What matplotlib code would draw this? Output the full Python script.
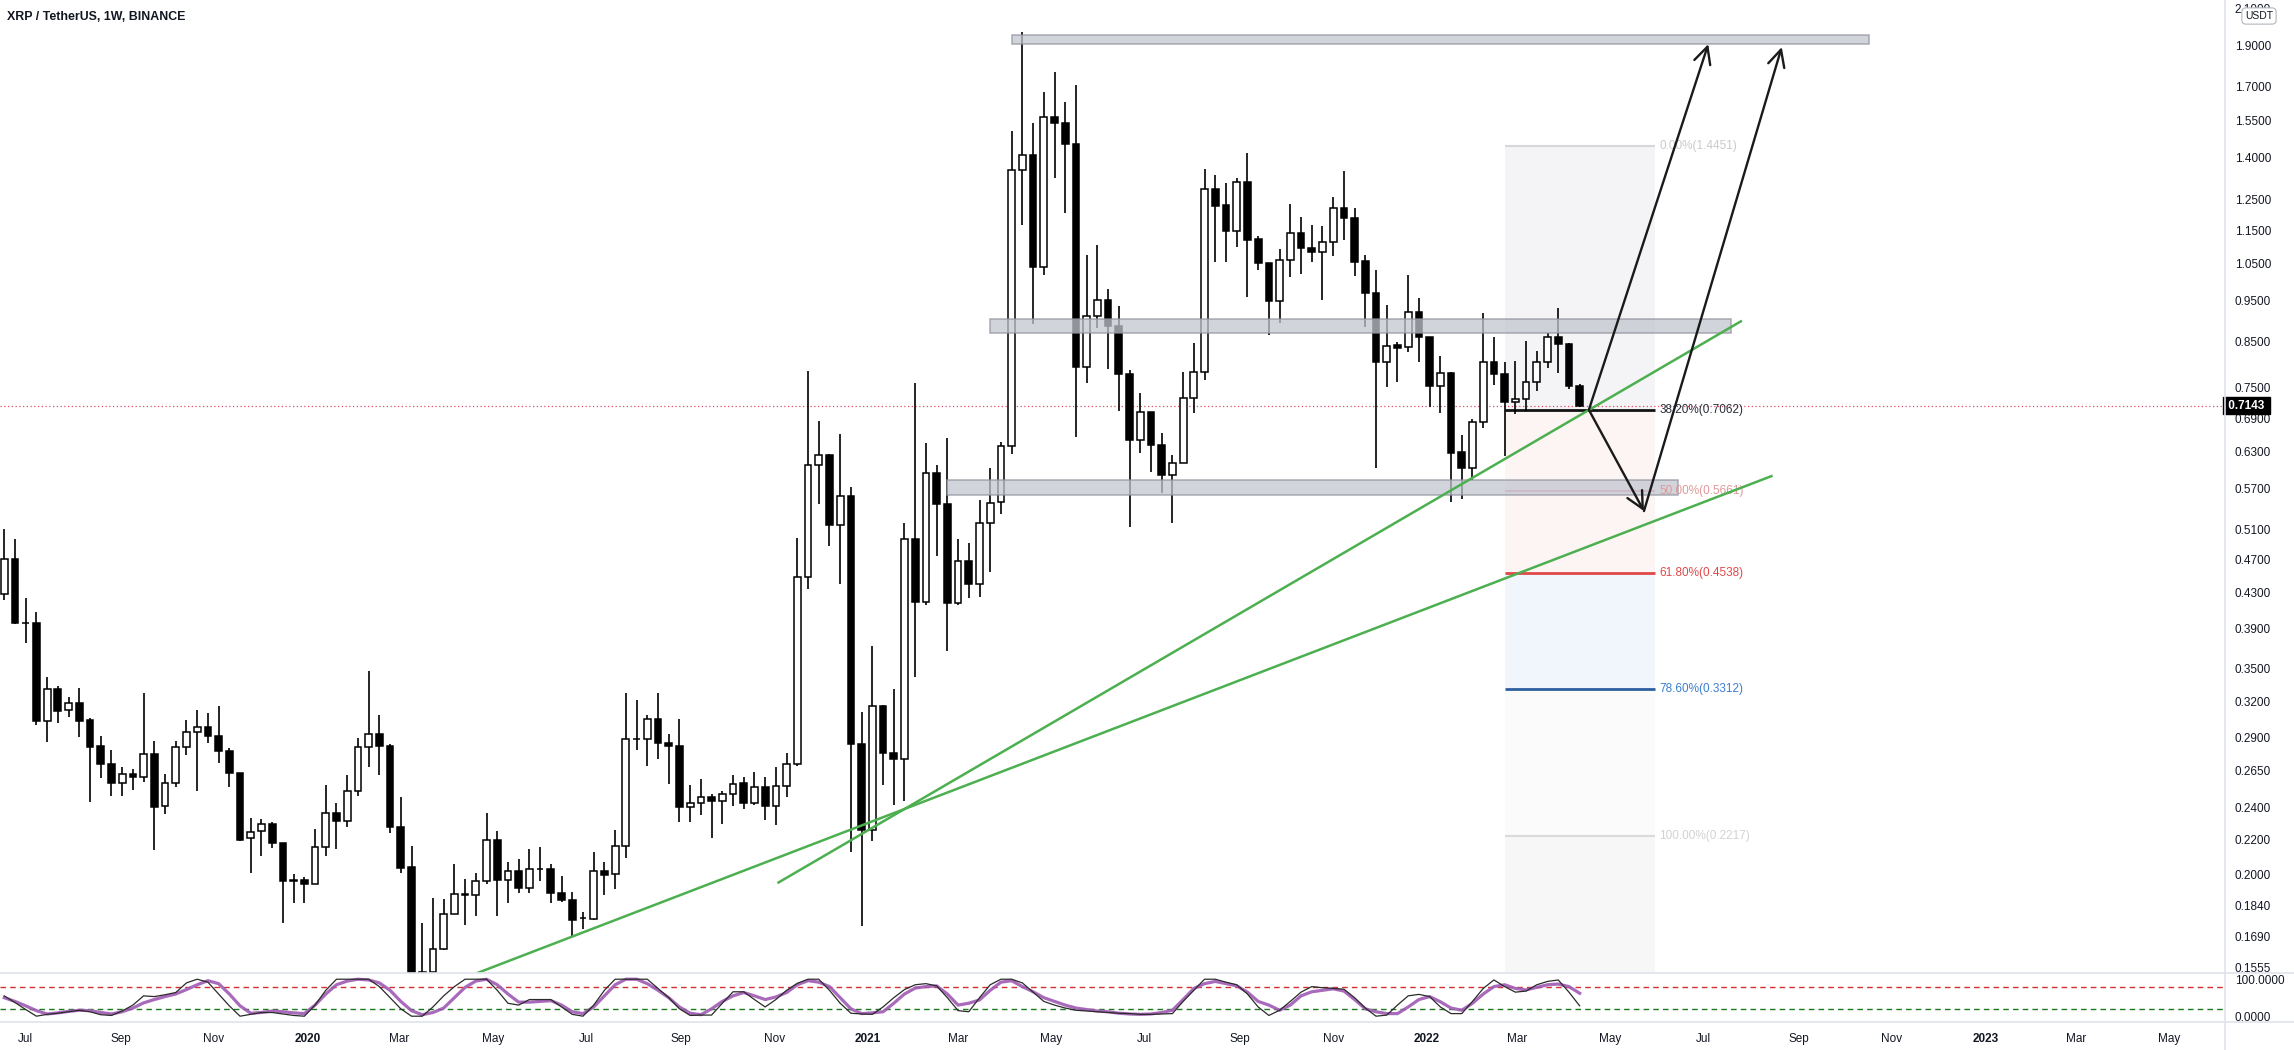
import numpy as np
import pandas as pd
import matplotlib
matplotlib.use("Agg")
import matplotlib.pyplot as plt
import matplotlib.dates as mdates
from matplotlib.patches import Rectangle
from matplotlib.lines import Line2D
import matplotlib.transforms as mtrans

plt.rcParams['font.family'] = ['Liberation Sans', 'DejaVu Sans']

# ---------------- data ----------------
title = "XRP / TetherUS, 1W, BINANCE"
first_week = "2019-06-17"

opens = [0.4278, 0.4705, 0.3961, 0.3955, 0.3035, 0.3305, 0.3122, 0.3182, 0.3041, 0.2833,
         0.2696, 0.2560, 0.2624, 0.2602, 0.2770, 0.2405, 0.2560, 0.2828, 0.2941, 0.2988,
         0.2909, 0.2795, 0.2631, 0.2205, 0.2249, 0.2290, 0.2175, 0.1966, 0.1969, 0.1946,
         0.2156, 0.2360, 0.2313, 0.2510, 0.2828, 0.2925, 0.2833, 0.2272, 0.2038, 0.1520,
         0.1535, 0.1631, 0.1794, 0.1894, 0.1892, 0.1965, 0.2195, 0.1970, 0.2018, 0.1929,
         0.2032, 0.2032, 0.1903, 0.1863, 0.1778, 0.1772, 0.2016, 0.2001, 0.2159, 0.2890,
         0.2890, 0.3046, 0.2857, 0.2836, 0.2403, 0.2428, 0.2467, 0.2441, 0.2488, 0.2561,
         0.2428, 0.2533, 0.2410, 0.2540, 0.2700, 0.4479, 0.6073, 0.6241, 0.5161, 0.5584,
         0.2852, 0.2256, 0.3160, 0.2777, 0.2734, 0.4969, 0.4192, 0.5947, 0.5468, 0.4175,
         0.4681, 0.4404, 0.5188, 0.5498, 0.6397, 1.3546, 1.4107, 1.0403, 1.5646, 1.5394,
         1.4545, 0.7940, 0.9114, 0.9508, 0.8870, 0.7783, 0.6513, 0.7012, 0.6414, 0.5915,
         0.6104, 0.7289, 0.7834, 1.2880, 1.2312, 1.1468, 1.3126, 1.1231, 1.0517, 0.9483,
         1.0611, 1.1405, 1.0948, 1.0829, 1.1127, 1.2203, 1.1876, 1.0577, 0.9688, 0.8047,
         0.8420, 0.8366, 0.9201, 0.8613, 0.7539, 0.7810, 0.6291, 0.6023, 0.6825, 0.8047,
         0.7775, 0.7219, 0.7264, 0.7607, 0.8047, 0.8597, 0.8435, 0.7539]
highs = [0.5109, 0.4967, 0.4232, 0.4074, 0.3420, 0.3335, 0.3234, 0.3314, 0.3055, 0.2912,
         0.2803, 0.2677, 0.2662, 0.3275, 0.2875, 0.2624, 0.2875, 0.3041, 0.3125, 0.3102,
         0.3159, 0.2816, 0.2631, 0.2328, 0.2322, 0.2307, 0.2175, 0.2002, 0.1987, 0.2262,
         0.2546, 0.2425, 0.2617, 0.2893, 0.3474, 0.3083, 0.2847, 0.2465, 0.2160, 0.1751,
         0.1877, 0.1873, 0.2057, 0.1975, 0.2005, 0.2360, 0.2252, 0.2066, 0.2085, 0.2140,
         0.2152, 0.2057, 0.1991, 0.1909, 0.1806, 0.2125, 0.2070, 0.2258, 0.3275, 0.3207,
         0.3085, 0.3275, 0.2927, 0.3052, 0.2546, 0.2594, 0.2488, 0.2509, 0.2616, 0.2608,
         0.2643, 0.2602, 0.2677, 0.2783, 0.4985, 0.7855, 0.6854, 0.6270, 0.6619, 0.5732,
         0.3111, 0.3715, 0.3167, 0.3310, 0.5199, 0.7596, 0.6454, 0.6086, 0.6536, 0.4975,
         0.4913, 0.5526, 0.6029, 0.6473, 1.5038, 1.9687, 1.5394, 1.6725, 1.7670, 1.6294,
         1.7075, 1.0755, 1.1050, 0.9812, 0.9355, 0.7869, 0.7388, 0.7012, 0.6632, 0.6243,
         0.7820, 0.8457, 1.3570, 1.3352, 1.3090, 1.3269, 1.4197, 1.1333, 1.0517, 1.0932,
         1.2345, 1.1909, 1.1664, 1.1632, 1.2600, 1.3500, 1.2203, 1.0751, 1.0322, 0.9386,
         0.8481, 1.0182, 0.9557, 0.8613, 0.8179, 0.7831, 0.6594, 0.6881, 0.9176, 0.8613,
         0.8033, 0.8061, 0.8512, 0.8284, 0.8691, 0.9319, 0.8458, 0.7573]
lows = [0.4213, 0.3950, 0.3745, 0.3000, 0.2867, 0.3014, 0.3069, 0.2906, 0.2436, 0.2595,
        0.2476, 0.2476, 0.2514, 0.2572, 0.2137, 0.2356, 0.2537, 0.2766, 0.2510, 0.2854,
        0.2704, 0.2537, 0.2190, 0.2009, 0.2104, 0.2150, 0.1751, 0.1851, 0.1851, 0.1946,
        0.2104, 0.2142, 0.2272, 0.2476, 0.2679, 0.2619, 0.2235, 0.2005, 0.1150, 0.1330,
        0.1480, 0.1630, 0.1794, 0.1743, 0.1786, 0.1946, 0.1786, 0.1848, 0.1899, 0.1903,
        0.1966, 0.1851, 0.1857, 0.1690, 0.1726, 0.1768, 0.1889, 0.1923, 0.2091, 0.2800,
        0.2683, 0.2739, 0.2554, 0.2304, 0.2306, 0.2348, 0.2205, 0.2292, 0.2410, 0.2390,
        0.2415, 0.2318, 0.2287, 0.2467, 0.2683, 0.4340, 0.5468, 0.4882, 0.4395, 0.2125,
        0.1740, 0.2188, 0.2546, 0.2415, 0.2441, 0.3416, 0.4161, 0.4745, 0.3668, 0.4161,
        0.4241, 0.4250, 0.4550, 0.5318, 0.6255, 1.1675, 0.8903, 1.0191, 1.3245, 1.2050,
        0.6554, 0.7590, 0.8823, 0.7890, 0.7030, 0.5139, 0.6282, 0.5968, 0.5638, 0.5200,
        0.6104, 0.7000, 0.7659, 1.0563, 1.0563, 1.0981, 0.9593, 1.0311, 0.8649, 0.8927,
        1.0126, 1.0218, 1.0558, 0.9515, 1.0732, 1.1199, 1.0155, 0.8849, 0.6023, 0.7505,
        0.7621, 0.8269, 0.8047, 0.7108, 0.6994, 0.5501, 0.5536, 0.5835, 0.6715, 0.7553,
        0.6228, 0.6981, 0.7044, 0.7437, 0.7902, 0.7810, 0.7471, 0.7122]
closes = [0.4705, 0.3961, 0.3955, 0.3035, 0.3311, 0.3119, 0.3182, 0.3035, 0.2828, 0.2696,
          0.2560, 0.2624, 0.2602, 0.2770, 0.2403, 0.2560, 0.2828, 0.2941, 0.2981, 0.2909,
          0.2795, 0.2631, 0.2195, 0.2245, 0.2290, 0.2175, 0.1966, 0.1968, 0.1946, 0.2156,
          0.2360, 0.2313, 0.2510, 0.2828, 0.2925, 0.2833, 0.2272, 0.2037, 0.1520, 0.1535,
          0.1631, 0.1794, 0.1894, 0.1892, 0.1965, 0.2195, 0.1970, 0.2018, 0.1925, 0.2027,
          0.2027, 0.1903, 0.1863, 0.1768, 0.1775, 0.2016, 0.1999, 0.2159, 0.2890, 0.2888,
          0.3046, 0.2857, 0.2836, 0.2403, 0.2428, 0.2467, 0.2441, 0.2488, 0.2554, 0.2428,
          0.2535, 0.2410, 0.2540, 0.2700, 0.4479, 0.6073, 0.6241, 0.5161, 0.5584, 0.2852,
          0.2256, 0.3160, 0.2777, 0.2734, 0.4969, 0.4192, 0.5947, 0.5468, 0.4175, 0.4681,
          0.4404, 0.5188, 0.5479, 0.6397, 1.3546, 1.4107, 1.0403, 1.5646, 1.5382, 1.4519,
          0.7940, 0.9114, 0.9508, 0.8870, 0.7783, 0.6513, 0.7012, 0.6414, 0.5915, 0.6104,
          0.7289, 0.7834, 1.2880, 1.2290, 1.1468, 1.3126, 1.1211, 1.0517, 0.9483, 1.0611,
          1.1405, 1.0971, 1.0829, 1.1127, 1.2203, 1.1876, 1.0558, 0.9688, 0.8047, 0.8397,
          0.8359, 0.9201, 0.8597, 0.7539, 0.7796, 0.6285, 0.6023, 0.6825, 0.8047, 0.7775,
          0.7219, 0.7264, 0.7607, 0.8047, 0.8597, 0.8435, 0.7539, 0.7143]

stoch_k = [55, 37, 18, 0, 5, 8, 12, 16, 12, 4, 2, 14, 30, 55, 53, 58, 64, 90, 100, 92,
           60, 28, 0, 5, 10, 10, 6, 2, 0, 30, 70, 100, 100, 100, 100, 80, 50, 20, 0, 0,
           25, 55, 80, 100, 100, 100, 70, 35, 30, 45, 45, 45, 25, 5, 0, 30, 70, 100, 100, 100,
           100, 75, 50, 20, 2, 3, 3, 35, 66, 66, 45, 25, 45, 70, 89, 100, 100, 70, 35, 8,
           6, 5, 25, 50, 72, 85, 88, 82, 50, 15, 12, 50, 85, 100, 100, 90, 65, 40, 30, 22,
           16, 14, 12, 10, 8, 7, 5, 5, 6, 7, 40, 70, 100, 100, 92, 85, 60, 25, 2, 16,
           40, 65, 80, 77, 75, 73, 50, 22, 0, 3, 30, 55, 59, 53, 25, 7, 7, 40, 75, 98,
           80, 65, 68, 85, 94, 98, 65, 28]
stoch_d = [50, 40, 28, 15, 6, 9, 13, 16, 15, 10, 6, 12, 22, 36, 45, 53, 60, 72, 85, 96,
           88, 60, 28, 8, 10, 14, 12, 9, 7, 30, 60, 85, 95, 100, 98, 90, 70, 40, 15, 4,
           10, 22, 50, 78, 95, 100, 85, 60, 38, 38, 40, 42, 30, 12, 7, 25, 55, 85, 100, 100,
           88, 70, 50, 25, 8, 4, 20, 40, 55, 64, 55, 45, 52, 64, 85, 96, 92, 80, 50, 20,
           7, 9, 12, 35, 60, 76, 80, 82, 60, 30, 35, 44, 70, 92, 96, 80, 66, 50, 40, 30,
           22, 18, 14, 12, 8, 6, 5, 6, 10, 16, 45, 75, 88, 94, 88, 82, 65, 40, 30, 16,
           30, 55, 66, 70, 74, 68, 45, 20, 12, 7, 7, 25, 45, 53, 39, 22, 16, 35, 60, 80,
           85, 75, 71, 78, 85, 87, 80, 62]

price_ticks = [2.1, 1.9, 1.7, 1.55, 1.4, 1.25, 1.15, 1.05, 0.95, 0.85, 0.75, 0.69, 0.63,
               0.57, 0.51, 0.47, 0.43, 0.39, 0.35, 0.32, 0.29, 0.265, 0.24, 0.22, 0.20,
               0.184, 0.169, 0.1555]
last_price = 0.7143

month_ticks = ["2019-07-01", "2019-09-01", "2019-11-01", "2020-01-01", "2020-03-01",
               "2020-05-01", "2020-07-01", "2020-09-01", "2020-11-01", "2021-01-01",
               "2021-03-01", "2021-05-01", "2021-07-01", "2021-09-01", "2021-11-01",
               "2022-01-01", "2022-03-01", "2022-05-01", "2022-07-01", "2022-09-01",
               "2022-11-01", "2023-01-01", "2023-03-01", "2023-05-01"]
month_labels = ["Jul", "Sep", "Nov", "2020", "Mar", "May", "Jul", "Sep", "Nov", "2021",
                "Mar", "May", "Jul", "Sep", "Nov", "2022", "Mar", "May", "Jul", "Sep",
                "Nov", "2023", "Mar", "May"]

# horizontal zones: (start, end, low, high)
zone_starts = ["2021-04-05", "2021-03-22", "2021-02-22"]
zone_ends = ["2022-10-17", "2022-07-19", "2022-06-14"]
zone_lows = [1.905, 0.869, 0.561]
zone_highs = [1.955, 0.904, 0.583]

# fibonacci retracement
fib_start, fib_end, fib_label_at = "2022-02-21", "2022-05-30", "2022-06-02"
fib_pcts = ["0.00%", "38.20%", "50.00%", "61.80%", "78.60%", "100.00%"]
fib_values = [1.4451, 0.7062, 0.5661, 0.4538, 0.3312, 0.2217]

# trend lines: (date, price) pairs
trend_a = [("2020-04-21", 0.1530), ("2022-08-15", 0.5905)]
trend_b = [("2020-11-03", 0.1953), ("2022-07-26", 0.8995)]

# arrows: (start, end)
arrows = [(("2022-04-17", 0.7062), ("2022-07-04", 1.906)),
          (("2022-04-17", 0.7062), ("2022-05-23", 0.5364)),
          (("2022-05-23", 0.5364), ("2022-08-21", 1.891))]

# ---------------- layout ----------------
W, H = 2294, 1050
fig = plt.figure(figsize=(W / 100, H / 100), dpi=100)
fig.patch.set_facecolor("white")
axis_x = 2225
main_bot = 973
osc_top, osc_bot = 973, 1022

ax = fig.add_axes([0, 1 - main_bot / H, axis_x / W, main_bot / H])
osc = fig.add_axes([0, 1 - osc_bot / H, axis_x / W, (osc_bot - osc_top) / H])

ref = mdates.date2num(pd.Timestamp("2019-07-01"))
ppd = 1.531  # pixels per day
x_left = ref - 25.7 / ppd
x_right = ref + (axis_x - 25.7) / ppd

TXT = "#131722"
FS = 8.5

# ---------------- main pane ----------------
ax.set_yscale("log")
ax.set_xlim(x_left, x_right)
ax.set_ylim(0.1530, 2.149)
for s in ax.spines.values():
    s.set_visible(False)

dates = pd.date_range(first_week, periods=len(opens), freq="7D")
xd = mdates.date2num(dates)
o = np.array(opens); c = np.array(closes); hi = np.array(highs); lo = np.array(lows)
up = c >= o

# fib shading
fx0 = mdates.date2num(pd.Timestamp(fib_start)); fx1 = mdates.date2num(pd.Timestamp(fib_end))
shade_cols = ["#f4f4f6", "#fdf5f4", "#fdf5f4", "#f1f6fc", "#fbfbfb"]
for k in range(len(fib_values) - 1):
    ax.add_patch(Rectangle((fx0, fib_values[k + 1]), fx1 - fx0, fib_values[k] - fib_values[k + 1],
                           facecolor=shade_cols[k], edgecolor="none", zorder=0))
ax.add_patch(Rectangle((fx0, 0.1530), fx1 - fx0, fib_values[-1] - 0.1530,
                       facecolor="#f7f7f7", edgecolor="none", zorder=0))
fib_line_cols = ["#d6d6d8", "#131313", "#e9a3a3", "#e04848", "#2d5f9f", "#dadada"]
fib_text_cols = ["#c9cacd", "#2a2e39", "#e09898", "#e04848", "#3a7fd0", "#d2d2d4"]
fib_lw = [1.5, 2.0, 1.5, 2.0, 2.0, 1.5]
fxl = mdates.date2num(pd.Timestamp(fib_label_at))
for v, p, lc, tc, lw in zip(fib_values, fib_pcts, fib_line_cols, fib_text_cols, fib_lw):
    ax.hlines(v, fx0, fx1, colors=lc, lw=lw, zorder=2)
    ax.text(fxl, v, f"{p}({v:.4f})", color=tc, fontsize=FS, va="center", ha="left", zorder=6)

# candles
body_w = 4.4
ax.vlines(xd, lo, hi, color="black", lw=1.2, zorder=3)
ax.bar(xd[up], c[up] - o[up], bottom=o[up], width=body_w, color="white",
       edgecolor="black", linewidth=1.1, zorder=4)
ax.bar(xd[~up], o[~up] - c[~up], bottom=c[~up], width=body_w, color="black",
       edgecolor="black", linewidth=1.1, zorder=4)

# zones
for s0, s1, zl, zh in zip(zone_starts, zone_ends, zone_lows, zone_highs):
    a0 = mdates.date2num(pd.Timestamp(s0)); a1 = mdates.date2num(pd.Timestamp(s1))
    ax.add_patch(Rectangle((a0, zl), a1 - a0, zh - zl, facecolor="#c3c6d0", alpha=0.75,
                           edgecolor="#8f929b", linewidth=1.1, zorder=5))

# trend lines
for tl in (trend_a, trend_b):
    tx = [mdates.date2num(pd.Timestamp(d)) for d, _ in tl]
    ty = [p for _, p in tl]
    ax.plot(tx, ty, color="#4caf50", lw=1.8, zorder=6, solid_capstyle="butt")

# arrows
for (d0, p0), (d1, p1) in arrows:
    ax.annotate("", xy=(mdates.date2num(pd.Timestamp(d1)), p1),
                xytext=(mdates.date2num(pd.Timestamp(d0)), p0),
                arrowprops=dict(arrowstyle="->,head_length=0.6,head_width=0.3", color="#1a1a1a",
                                lw=1.7, mutation_scale=20, shrinkA=0, shrinkB=0), zorder=7)

# current price line
ax.axhline(last_price, color="#e0506a", lw=0.9, ls=(0, (1, 2)), zorder=1)

# right price scale
ax.yaxis.tick_right()
ax.yaxis.set_minor_locator(matplotlib.ticker.NullLocator())
ax.set_yticks(price_ticks)
ax.set_yticklabels([f"{t:.4f}" for t in price_ticks])
ax.tick_params(axis="y", length=0, pad=7, labelsize=FS, labelcolor=TXT)
ax.tick_params(axis="x", length=0, labelbottom=False)

blend = mtrans.blended_transform_factory(ax.transAxes, ax.transData)
ax.text(1.0, last_price, " 0.7143 ", transform=blend, ha="left", va="center", color="white",
        fontsize=FS, fontweight="bold", zorder=10,
        bbox=dict(boxstyle="square,pad=0.2", fc="black", ec="black"), clip_on=False)

# ---------------- oscillator pane ----------------
osc.set_xlim(x_left, x_right)
osc.set_ylim(-15.7, 116.8)
for s in osc.spines.values():
    s.set_visible(False)
osc.plot(xd, stoch_d, color="#a05ab4", lw=2.3, alpha=0.9, zorder=3)
osc.plot(xd, stoch_k, color="#2b2b2b", lw=0.9, zorder=4)
osc.axhline(80, color="#d32f2f", lw=1.0, ls=(0, (4, 3)), zorder=1)
osc.axhline(20, color="#1b7a1b", lw=1.0, ls=(0, (4, 3)), zorder=1)
osc.yaxis.tick_right()
osc.set_yticks([100, 0])
osc.set_yticklabels(["100.0000", "0.0000"])
osc.tick_params(axis="y", length=0, pad=7, labelsize=FS, labelcolor=TXT)
osc.set_xticks([mdates.date2num(pd.Timestamp(d)) for d in month_ticks])
osc.set_xticklabels(month_labels)
osc.tick_params(axis="x", length=0, pad=8, labelsize=FS, labelcolor=TXT)
for lab in osc.get_xticklabels():
    if lab.get_text().isdigit():
        lab.set_fontweight("bold")

# separators
sep = "#e0e3eb"
fig.add_artist(Line2D([axis_x / W, axis_x / W], [0, 1], color=sep, lw=1.2, transform=fig.transFigure))
for yy in (osc_top, osc_bot):
    fig.add_artist(Line2D([0, 1], [1 - yy / H, 1 - yy / H], color=sep, lw=1.2,
                          transform=fig.transFigure))

# title and currency badge
fig.text(7 / W, 1 - 17 / H, title, fontsize=8.9, fontweight="bold", color=TXT, va="center", ha="left")
fig.text(2259 / W, 1 - 16 / H, "USDT", fontsize=7.5, color=TXT, va="center", ha="center",
         bbox=dict(boxstyle="round,pad=0.3,rounding_size=0.4", fc="white", ec="#b2b5be", lw=0.8),
         zorder=20)

fig.savefig("out.png", dpi=100, facecolor="white")
